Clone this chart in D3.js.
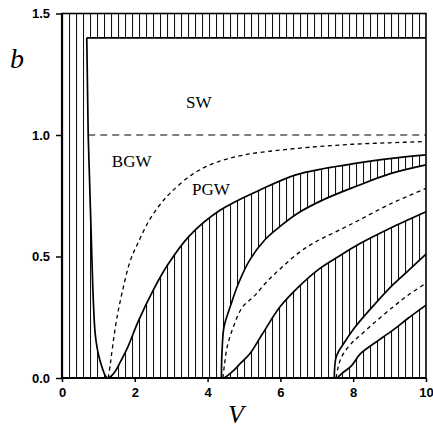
<!DOCTYPE html>
<html><head><meta charset="utf-8">
<script src="https://cdn.jsdelivr.net/npm/d3@7"></script>
<style>html,body{margin:0;padding:0;background:#fff;}</style>
</head><body>
<svg id="chart" width="433" height="430"></svg>
<script>
// ---- data (V, b) ----
const xTicks = [0, 2, 4, 6, 8, 10];
const yTicks = [0, 0.5, 1.0, 1.5];
const bandB = [1.4, 1.5];          // hatched band at the top
const swLineB = 1.0;               // dashed b = 1 line
const swLineV = [0.72, 10];

// left boundary of mode 0 region
const leftV = [0.68, 0.70, 0.72, 0.75, 0.78, 0.81, 0.83, 0.86, 0.91, 0.97, 1.04, 1.12, 1.18, 1.24];
const leftB = [1.40, 1.20, 1.00, 0.85, 0.70, 0.55, 0.45, 0.32, 0.185, 0.12, 0.074, 0.035, 0.012, 0.0];
// mode 0 lower boundary (solid)
const p1V = [1.24, 1.35, 1.45, 1.6, 1.8, 2.1, 2.5, 2.9, 3.5, 4.34, 5.44, 6.4, 7.2, 8.1, 9.0, 10];
const p1B = [0.0, 0.008, 0.025, 0.065, 0.125, 0.235, 0.36, 0.465, 0.585, 0.69, 0.774, 0.835, 0.862, 0.884, 0.903, 0.918];
// mode 0 dashed
const d1V = [1.27, 1.33, 1.40, 1.50, 1.65, 1.87, 2.1, 2.4, 2.7, 3.0, 3.6, 4.2, 5.0, 6.0, 7.0, 8.0, 9.0, 10];
const d1B = [0.0, 0.06, 0.14, 0.24, 0.35, 0.48, 0.56, 0.65, 0.715, 0.765, 0.84, 0.885, 0.918, 0.938, 0.952, 0.962, 0.968, 0.973];
// mode 1 upper-left boundary (solid)
const q1lV = [4.38, 4.385, 4.40, 4.45, 4.62, 4.85, 5.16, 5.58, 6.0, 6.5, 7.2, 8.1, 9.0, 10];
const q1lB = [0.0, 0.06, 0.12, 0.21, 0.293, 0.39, 0.486, 0.57, 0.625, 0.68, 0.735, 0.79, 0.84, 0.877];
// mode 1 dashed
const d2V = [4.42, 4.46, 4.54, 4.71, 4.95, 5.3, 5.62, 6.0, 6.5, 7.0, 7.5, 8.1, 9.0, 10];
const d2B = [0.0, 0.05, 0.13, 0.211, 0.29, 0.34, 0.395, 0.45, 0.515, 0.563, 0.60, 0.645, 0.715, 0.78];
// mode 1 lower-right boundary (solid)
const q1rV = [4.45, 4.55, 4.71, 4.9, 5.16, 5.5, 5.99, 6.5, 7.05, 7.6, 8.15, 9.0, 10];
const q1rB = [0.0, 0.01, 0.03, 0.06, 0.10, 0.18, 0.293, 0.375, 0.447, 0.50, 0.55, 0.615, 0.684];
// mode 2 upper-left boundary (solid)
const q2lV = [7.48, 7.49, 7.52, 7.6, 7.73, 8.0, 8.19, 8.6, 9.1, 9.5, 10];
const q2lB = [0.0, 0.04, 0.08, 0.11, 0.14, 0.20, 0.235, 0.305, 0.385, 0.44, 0.51];
// mode 2 dashed
const d3V = [7.53, 7.58, 7.66, 7.8, 8.0, 8.19, 8.6, 9.1, 9.5, 10];
const d3B = [0.0, 0.04, 0.08, 0.115, 0.15, 0.175, 0.23, 0.293, 0.34, 0.39];
// mode 2 lower-right boundary (solid)
const q2rV = [7.56, 7.7, 7.95, 8.2, 8.6, 9.1, 9.5, 10];
const q2rB = [0.0, 0.02, 0.05, 0.10, 0.145, 0.198, 0.245, 0.30];

const regionLabels = ["SW", "BGW", "PGW"];
const labelV = [3.41, 1.37, 3.57];
const labelB = [1.111, 0.868, 0.753];

// ---- drawing ----
const svg = d3.select("#chart");
const x = d3.scaleLinear().domain([0, 10]).range([62, 426]);
const y = d3.scaleLinear().domain([0, 1.5]).range([378, 13.5]);

const zip = (V, B) => V.map((v, i) => [v, B[i]]);
const smooth = d3.line().x(d => x(d[0])).y(d => y(d[1])).curve(d3.curveCatmullRom.alpha(0.5));
const straight = d3.line().x(d => x(d[0])).y(d => y(d[1]));
const join = parts => parts.map((p, i) => i === 0 ? p : "L" + p.slice(1)).join("") + "Z";

const leftPts = zip(leftV, leftB), p1Pts = zip(p1V, p1B), d1Pts = zip(d1V, d1B);
const q1lPts = zip(q1lV, q1lB), d2Pts = zip(d2V, d2B), q1rPts = zip(q1rV, q1rB);
const q2lPts = zip(q2lV, q2lB), d3Pts = zip(d3V, d3B), q2rPts = zip(q2rV, q2rB);

const defs = svg.append("defs");
const pat = defs.append("pattern").attr("id", "hatch").attr("patternUnits", "userSpaceOnUse")
  .attr("x", 62).attr("y", 0).attr("width", 7).attr("height", 10);
pat.append("line").attr("x1", 0.5).attr("x2", 0.5).attr("y1", 0).attr("y2", 10)
  .attr("stroke", "#111").attr("stroke-width", 1.1);

// hatched regions
const regions = [
  join([straight([[0, 0], [0, bandB[1]], [10, bandB[1]], [10, bandB[0]], [leftV[0], bandB[0]]]), smooth(leftPts)]),
  join([smooth(p1Pts), straight([[10, p1B[p1B.length - 1]], [10, q1lB[q1lB.length - 1]]]), smooth(q1lPts.slice().reverse())]),
  join([smooth(q1rPts), straight([[10, q1rB[q1rB.length - 1]], [10, q2lB[q2lB.length - 1]]]), smooth(q2lPts.slice().reverse())]),
  join([smooth(q2rPts), straight([[10, q2rB[q2rB.length - 1]], [10, 0]])])
];
svg.append("g").selectAll("path").data(regions).join("path")
  .attr("d", d => d).attr("fill", "url(#hatch)").attr("stroke", "none");

// solid boundaries
const solids = [leftPts, p1Pts, q1lPts, q1rPts, q2lPts, q2rPts];
svg.append("g").selectAll("path").data(solids).join("path")
  .attr("d", smooth).attr("fill", "none").attr("stroke", "#000").attr("stroke-width", 1.7);
svg.append("path").attr("d", straight([[leftV[0], bandB[0]], [10, bandB[0]]]))
  .attr("fill", "none").attr("stroke", "#000").attr("stroke-width", 1.7);

// dashed curves
svg.append("g").selectAll("path").data([d1Pts, d2Pts, d3Pts]).join("path")
  .attr("d", smooth).attr("fill", "none").attr("stroke", "#000").attr("stroke-width", 1.3)
  .attr("stroke-dasharray", "4,3.5");
svg.append("path").attr("d", straight([[swLineV[0], swLineB], [swLineV[1], swLineB]]))
  .attr("fill", "none").attr("stroke", "#000").attr("stroke-width", 1.2)
  .attr("stroke-dasharray", "7,5");

// frame
svg.append("rect").attr("x", x(0)).attr("y", y(1.5)).attr("width", x(10) - x(0)).attr("height", y(0) - y(1.5))
  .attr("fill", "none").attr("stroke", "#000").attr("stroke-width", 1.6);
svg.append("line").attr("x1", x(0)).attr("x2", x(0)).attr("y1", y(1.5)).attr("y2", y(0))
  .attr("stroke", "#000").attr("stroke-width", 2.2);
svg.append("line").attr("x1", x(0)).attr("x2", x(10)).attr("y1", y(0)).attr("y2", y(0))
  .attr("stroke", "#000").attr("stroke-width", 2);

// axes
const gx = svg.append("g").attr("transform", `translate(0,${y(0)})`)
  .call(d3.axisBottom(x).tickValues(xTicks).tickSize(4).tickPadding(6).tickFormat(d3.format("d")));
const gy = svg.append("g").attr("transform", `translate(${x(0)},0)`)
  .call(d3.axisLeft(y).tickValues(yTicks).tickSize(6).tickPadding(6).tickFormat(d3.format(".1f")));
[gx, gy].forEach(g => {
  g.select(".domain").remove();
  g.selectAll(".tick line").attr("stroke", "#000").attr("stroke-width", 1.5);
  g.selectAll(".tick text").attr("fill", "#000")
    .style("font-family", "'Liberation Sans', Arial, sans-serif")
    .style("font-size", "13px").style("font-weight", "bold");
});

// region labels
svg.append("g").selectAll("text").data(regionLabels).join("text")
  .attr("x", (d, i) => x(labelV[i])).attr("y", (d, i) => y(labelB[i]))
  .text(d => d)
  .style("font-family", "'Liberation Serif', 'Times New Roman', serif").style("font-size", "17px");

// axis titles
svg.append("text").attr("x", 10).attr("y", 68).text("b")
  .style("font-family", "'Liberation Serif', 'Times New Roman', serif").style("font-style", "italic")
  .style("font-size", "28px");
svg.append("text").attr("x", 228).attr("y", 423).text("V")
  .style("font-family", "'Liberation Serif', 'Times New Roman', serif").style("font-style", "italic")
  .style("font-size", "26px");
</script>
</body></html>
